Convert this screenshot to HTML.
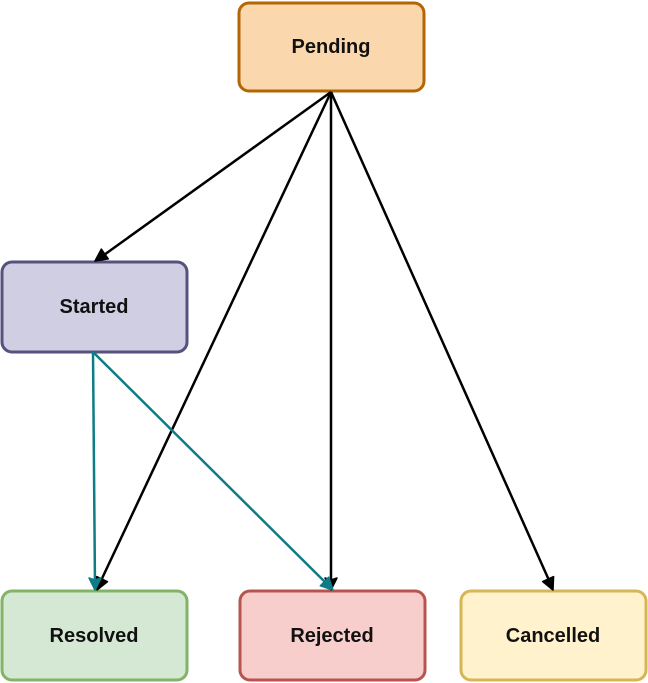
<!DOCTYPE html>
<html><head><meta charset="utf-8"><style>
html,body{margin:0;padding:0;background:#fff;}
svg{display:block}
text{font-family:"Liberation Sans",sans-serif;font-size:20px;font-weight:bold;fill:#111;text-anchor:middle;dominant-baseline:central}
</style></head><body>
<svg width="648" height="683" viewBox="0 0 648 683">
<g stroke-width="3">
<rect x="239" y="3" width="185" height="88" rx="10" fill="#fad7ac" stroke="#b46504"/>
<rect x="2" y="262" width="185" height="90" rx="10" fill="#d0cee2" stroke="#56517e"/>
<rect x="2" y="591" width="185" height="89" rx="10" fill="#d5e8d4" stroke="#82b366"/>
<rect x="240" y="591" width="185" height="89" rx="10" fill="#f8cecc" stroke="#b85450"/>
<rect x="461" y="591" width="185" height="89" rx="10" fill="#fff2cc" stroke="#d6b656"/>
</g>
<g stroke="#000" stroke-width="2.5" fill="none">
<line x1="331" y1="92" x2="97" y2="260"/>
<line x1="331" y1="92" x2="98" y2="587"/>
<line x1="331" y1="92" x2="331" y2="587"/>
<line x1="331" y1="92" x2="552" y2="587"/>
</g>
<g stroke="#0e7c86" stroke-width="2.5" fill="none">
<line x1="93" y1="352" x2="95" y2="587"/>
<line x1="93" y1="352" x2="331" y2="588"/>
</g>
<g fill="#000" stroke="#000" stroke-width="1.5" stroke-linejoin="round">
<polygon points="95,261 101.3,249.1 104.8,254 108.3,258.9"/>
<polygon points="97,590 96.7,576.6 102.1,579.1 107.5,581.7"/>
<polygon points="331,590 325,578 331,580 337,578"/>
<polygon points="553,590 542.6,581.5 548.1,579 553.6,576.6"/>
</g>
<g fill="#0e7c86" stroke="#0e7c86" stroke-width="1.5" stroke-linejoin="round">
<polygon points="95,590 89,578 95,580 101,578"/>
<polygon points="333,590 320.3,585.8 324.5,581.5 328.7,577.2"/>
</g>
<text x="331" y="47">Pending</text>
<text x="94" y="307">Started</text>
<text x="94" y="636">Resolved</text>
<text x="332" y="636">Rejected</text>
<text x="553" y="636">Cancelled</text>
</svg>
</body></html>
